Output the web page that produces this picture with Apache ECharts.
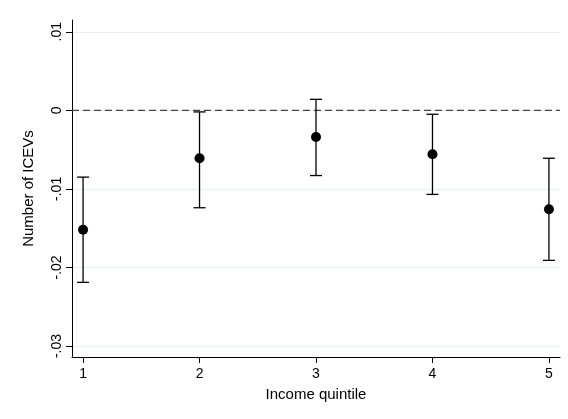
<!DOCTYPE html>
<html><head><meta charset="utf-8">
<script src="https://cdn.jsdelivr.net/npm/echarts@6/dist/echarts.min.js"></script>
<style>html,body{margin:0;background:#fff}#c{width:568px;height:419px}</style>
</head><body><div id="c"></div>
<script>
const quintiles = [1, 2, 3, 4, 5];
const estimates = [-0.0152, -0.0061, -0.0034, -0.0056, -0.0126];
const ciLow = [-0.0219, -0.0124, -0.0083, -0.0107, -0.0191];
const ciHigh = [-0.0085, -0.0002, 0.0014, -0.0005, -0.0061];
const yTicks = [-0.03, -0.02, -0.01, 0, 0.01];

function fmt(v){ if (Math.abs(v) < 1e-9) return '0'; const s = v.toFixed(2); return s.replace('0.', '.'); }

const chart = echarts.init(document.getElementById('c'));
chart.setOption({
  animation: false,
  grid: { left: 72, right: 8, top: 20, bottom: 62 },
  xAxis: {
    type: 'value', min: 0.905, max: 5.095,
    axisLine: { onZero: false, lineStyle: { color: '#000' } },
    axisTick: { show: true, customValues: quintiles, length: 6, lineStyle: { color: '#000' } },
    axisLabel: { customValues: quintiles, color: '#000', fontSize: 14, margin: 10, fontFamily: 'Liberation Sans', formatter: v => String(v) },
    splitLine: { show: false },
    name: 'Income quintile', nameLocation: 'middle', nameGap: 30,
    nameTextStyle: { color: '#000', fontSize: 15, fontFamily: 'Liberation Sans' }
  },
  yAxis: {
    type: 'value', min: -0.0314, max: 0.0115,
    axisLine: { show: true, onZero: false, lineStyle: { color: '#000' } },
    axisTick: { show: true, customValues: yTicks, length: 6, lineStyle: { color: '#000' } },
    axisLabel: { customValues: yTicks, rotate: 90, color: '#000', fontSize: 14, fontFamily: 'Liberation Sans', formatter: fmt },
    splitLine: { show: true, lineStyle: { color: '#e8eef2' } },
    name: 'Number of ICEVs', nameLocation: 'middle', nameGap: 36,
    nameTextStyle: { color: '#000', fontSize: 15, fontFamily: 'Liberation Sans' }
  },
  series: [
    {
      type: 'line', data: [[0.905, 0], [5.095, 0]], symbol: 'none', silent: true, z: 5,
      lineStyle: { color: '#444', type: [7, 4], width: 1.3 }
    },
    {
      type: 'custom', z: 6,
      data: quintiles.map((q, i) => [q, ciLow[i], ciHigh[i]]),
      renderItem: (params, api) => {
        const lo = api.coord([api.value(0), api.value(1)]);
        const hi = api.coord([api.value(0), api.value(2)]);
        const w = 6, st = { stroke: '#000', lineWidth: 1.3 };
        return { type: 'group', children: [
          { type: 'line', shape: { x1: lo[0], y1: lo[1], x2: hi[0], y2: hi[1] }, style: st },
          { type: 'line', shape: { x1: lo[0]-w, y1: lo[1], x2: lo[0]+w, y2: lo[1] }, style: st },
          { type: 'line', shape: { x1: hi[0]-w, y1: hi[1], x2: hi[0]+w, y2: hi[1] }, style: st }
        ]};
      }
    },
    {
      type: 'scatter', z: 7, data: quintiles.map((q, i) => [q, estimates[i]]),
      symbolSize: 10, itemStyle: { color: '#000', opacity: 1 }
    }
  ]
});
</script></body></html>
